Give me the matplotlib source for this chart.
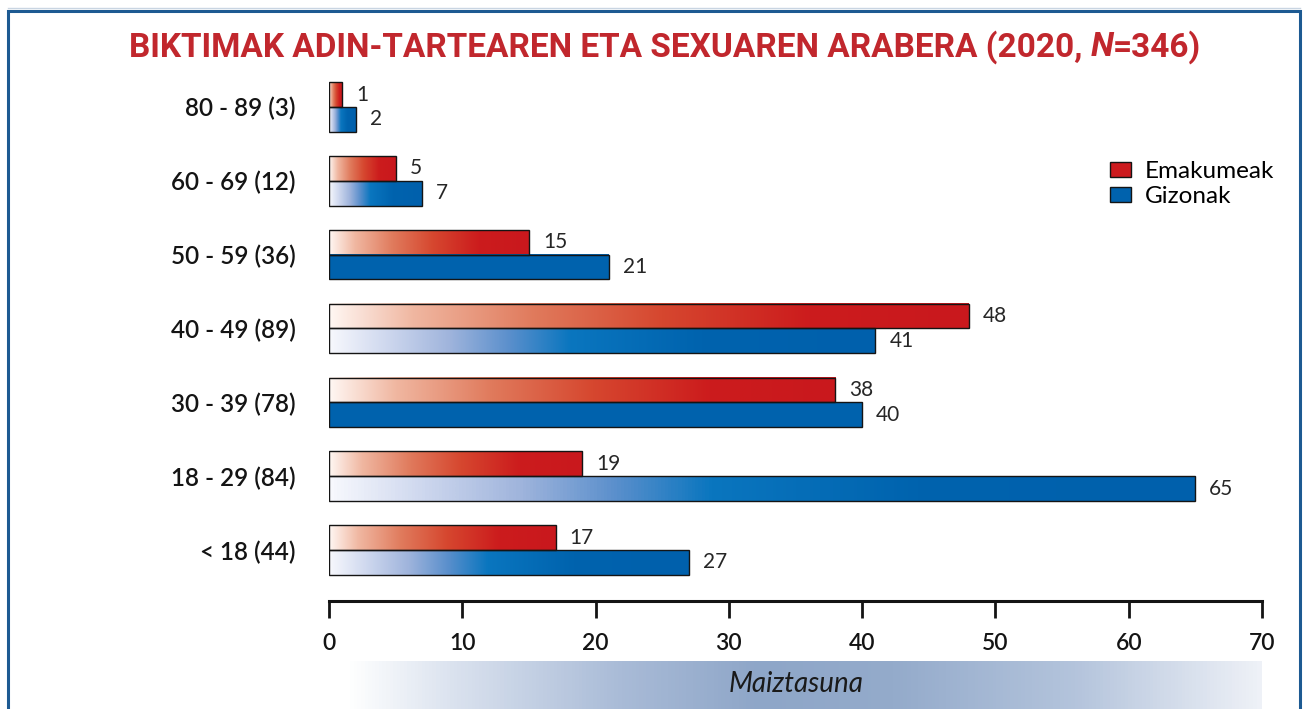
import numpy as np
import matplotlib
matplotlib.use("Agg")
import matplotlib.pyplot as plt
from matplotlib.colors import LinearSegmentedColormap
from matplotlib.patches import Patch, Rectangle
from matplotlib.lines import Line2D

# ---- data ----
categories = ["< 18 (44)", "18 - 29 (84)", "30 - 39 (78)", "40 - 49 (89)",
              "50 - 59 (36)", "60 - 69 (12)", "80 - 89 (3)"]
emakumeak = [17, 19, 38, 48, 15, 5, 1]
gizonak = [27, 65, 40, 41, 21, 7, 2]
series_names = ["Emakumeak", "Gizonak"]
xticks = [0, 10, 20, 30, 40, 50, 60, 70]
title_parts = ["BIKTIMAK ADIN-TARTEAREN ETA SEXUAREN ARABERA (2020, ", "N", "=346)"]
xlabel = "Maiztasuna"

# groups whose men's bar is filled flat instead of with a gradient
flat_blue = {"50 - 59 (36)", "30 - 39 (78)"}

RED = "#cc1a1e"
BLUE = "#0062ad"
TITLE_RED = "#c1272d"
FRAME = "#1d5a92"
INK = "#141414"

red_cmap = LinearSegmentedColormap.from_list(
    "red_fade", [(0.0, "#fff7f3"), (0.13, "#f0b7a1"), (0.32, "#e07a5c"),
                 (0.52, "#d6472f"), (0.75, "#cc1c1d"), (1.0, "#c9181d")])
blue_cmap = LinearSegmentedColormap.from_list(
    "blue_fade", [(0.0, "#f7f8fd"), (0.1, "#d0d9ef"), (0.22, "#9fb4dc"),
                  (0.33, "#5a8fcc"), (0.44, "#0a76bf"), (0.68, "#0063ae"),
                  (1.0, "#0060ac")])
band_cmap = LinearSegmentedColormap.from_list(
    "band", [(0.0, "#ffffff"), (0.12, "#d9e1ee"), (0.3, "#a9bbd7"),
             (0.45, "#8ea6c8"), (0.6, "#94abcb"), (0.8, "#b4c4dc"),
             (1.0, "#eef1f7")])

W, H = 1306, 709
fig = plt.figure(figsize=(W / 100, H / 100), dpi=100)


def fx(px):
    return px / W


def fy(py):
    return 1 - py / H


ax = fig.add_axes([fx(329), fy(601), fx(1262) - fx(329), fy(70) - fy(601)])

y = np.arange(len(categories))
h = 0.335
grad = np.linspace(0, 1, 256).reshape(1, -1)

for i, cat in enumerate(categories):
    ve, vg = emakumeak[i], gizonak[i]
    ax.imshow(grad, cmap=red_cmap, extent=(0, ve, y[i], y[i] + h),
              aspect="auto", zorder=2, interpolation="bilinear")
    if cat in flat_blue:
        ax.imshow(np.zeros((1, 2)), cmap=LinearSegmentedColormap.from_list(
            "flat", [BLUE, BLUE]), extent=(0, vg, y[i] - h, y[i]),
            aspect="auto", zorder=2)
    else:
        ax.imshow(grad, cmap=blue_cmap, extent=(0, vg, y[i] - h, y[i]),
                  aspect="auto", zorder=2, interpolation="bilinear")

ax.barh(y + h / 2, emakumeak, height=h, facecolor="none",
        edgecolor=INK, linewidth=1.0, zorder=3)
ax.barh(y - h / 2, gizonak, height=h, facecolor="none",
        edgecolor=INK, linewidth=1.0, zorder=3)

val_font = dict(family="Lato", weight="normal", fontsize=15, color="#262626")
for i in range(len(categories)):
    ax.annotate(str(emakumeak[i]), (emakumeak[i], y[i] + h / 2),
                xytext=(10, 0), textcoords="offset points",
                va="center", ha="left", **val_font)
    ax.annotate(str(gizonak[i]), (gizonak[i], y[i] - h / 2),
                xytext=(10, 0), textcoords="offset points",
                va="center", ha="left", **val_font)

ax.set_xlim(0, 70)
ax.set_ylim(-0.69, 6.5)
ax.set_xticks(xticks)
ax.set_xticklabels([str(t) for t in xticks], family="Lato", weight="semibold",
                   fontsize=16.5, color=INK)
ax.set_yticks(y)
ax.set_yticklabels(categories, family="Lato", weight="semibold", fontsize=17.5,
                   color=INK)
ax.tick_params(axis="x", length=12, width=2, direction="out", pad=11,
               color=INK)
ax.tick_params(axis="y", length=0, pad=24)
for s in ("left", "top", "right"):
    ax.spines[s].set_visible(False)
ax.spines["bottom"].set_linewidth(2.2)
ax.spines["bottom"].set_color(INK)

# legend
handles = [Patch(facecolor=RED, edgecolor=INK, linewidth=1.0),
           Patch(facecolor=BLUE, edgecolor=INK, linewidth=1.0)]
fig.legend(handles, series_names, loc="upper left",
           bbox_to_anchor=(fx(1110), fy(161)), bbox_transform=fig.transFigure,
           frameon=False, prop=dict(family="Lato", size=17.5),
           handlelength=0.85, handleheight=0.55, handletextpad=0.6,
           labelspacing=0.18, borderpad=0, borderaxespad=0)

# axis caption on a shaded band
bax = fig.add_axes([fx(345), 0, fx(1262) - fx(345), fy(661)])
bax.imshow(grad, cmap=band_cmap, aspect="auto", extent=(0, 1, 0, 1),
           interpolation="bilinear")
bax.set_axis_off()
fig.text(fx(796), fy(684), xlabel, ha="center", va="center",
         family="Lato", weight="normal", style="italic", fontsize=20,
         color="#1a1a1a")

# title built from pieces so the N can be set in italic
title_font = dict(family=["Liberation Sans Narrow", "Roboto"], weight="bold",
                  fontsize=24, color=TITLE_RED)
fig.canvas.draw()
renderer = fig.canvas.get_renderer()
texts = []
for k, part in enumerate(title_parts):
    t = fig.text(0, fy(47), part, ha="left", va="center",
                 style="italic" if k == 1 else "normal", **title_font)
    texts.append(t)
widths = [t.get_window_extent(renderer).width for t in texts]
x0 = 665 - sum(widths) / 2
for t, w in zip(texts, widths):
    t.set_x(fx(x0))
    x0 += w

# outer frame
fig.add_artist(Rectangle((fx(8), fy(760)), fx(1300) - fx(8), fy(11) - fy(760),
                         transform=fig.transFigure, fill=False,
                         edgecolor=FRAME, linewidth=2.2))
fig.add_artist(Line2D([fx(8), fx(1300)], [fy(8), fy(8)],
                      transform=fig.transFigure, color="#c9d5e2", linewidth=1))

fig.savefig("out.png", dpi=100)
